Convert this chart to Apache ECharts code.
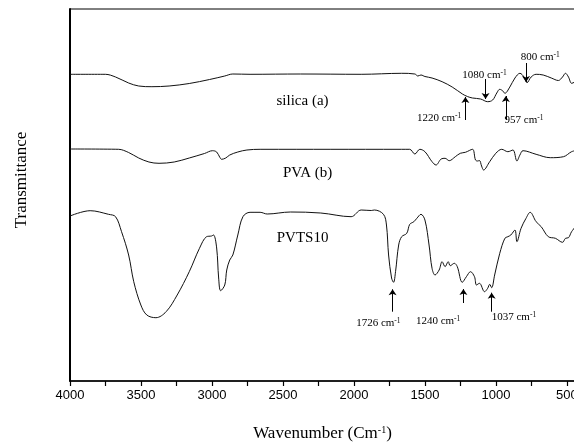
<!DOCTYPE html>
<html>
<head>
<meta charset="utf-8">
<script src="https://cdn.jsdelivr.net/npm/echarts@6/dist/echarts.min.js"></script>
<style>
	html, body { margin: 0; padding: 0; background: #fff; }
	#chart { width: 574px; height: 442px; }
</style>
</head>
<body>
<div id="chart"></div>
<script>
// spectra: [wavenumber (cm-1), transmittance (a.u., offset per trace)]
var silica = [
	[4000,306.7],[3751,306.7],[3679,304],[3587,298],[3516,295],[3423,294.3],[3302,295],[3160,297.5],
	[3017,301.5],[2910,305],[2853,307],[2732,306.7],[2376,307],[1949,306.7],[1664,307.7],[1571,307],
	[1550,305],[1528,306],[1500,304.5],[1450,303],[1379,299.3],[1308,294],[1236,287],[1201,284.5],
	[1165,283],[1108,282],[1058,279.3],[1023,281],[994,288],[973,291.7],[951,290],[937,287.7],
	[902,294],[866,303],[831,307.7],[802,304],[781,298.3],[752,304],[717,306.7],[667,306],
	[610,303],[560,300.5],[531,304],[510,307.7],[489,304],[467,297.7],[446,299],[420,303]
];
var pva = [
	[4000,232],[3658,231.7],[3587,228.5],[3516,223],[3444,219],[3373,217.7],[3266,219],[3160,223],
	[3053,227.5],[2996,230.3],[2967,229],[2946,224],[2932,221.7],[2903,223],[2875,226],[2818,229],
	[2754,231],[2661,231.7],[1664,231.7],[1607,231.7],[1571,227],[1536,231.7],[1500,229.3],[1450,219.3],
	[1422,216],[1386,222],[1358,222.7],[1329,220.3],[1286,224.3],[1251,227.7],[1215,228.7],[1165,231.7],
	[1144,221],[1130,220],[1116,220.5],[1101,215],[1087,211],[1044,219.3],[1001,227.7],[959,231.7],
	[916,229.3],[880,231],[852,220],[831,226],[809,230.3],[717,226.7],[617,223.3],[524,224.3],
	[467,229.3],[420,231]
];
var pvts10 = [
	[4000,165],[3858,170.3],[3729,166.7],[3679,164.3],[3637,149.3],[3587,126],[3551,99.3],[3501,76],
	[3459,66],[3395,63.3],[3323,69.3],[3245,86],[3160,109.3],[3088,132.7],[3038,144.3],[3003,145],
	[2989,146],[2967,133],[2953,103],[2939,90.3],[2910,96],[2896,111],[2875,121],[2853,126],
	[2818,146],[2782,164.3],[2732,168.7],[2661,168.7],[2611,167],[2447,169],[2234,168],[2020,164.3],
	[1949,171],[1878,170.5],[1856,171],[1792,166.7],[1771,156],[1756,126],[1735,103],[1721,98.7],
	[1707,109.3],[1685,136],[1664,144.3],[1628,147.7],[1607,156.7],[1578,159.3],[1557,162.7],[1528,166.7],
	[1500,161],[1471,136],[1450,112.7],[1429,106],[1400,111],[1379,119.3],[1358,114.3],[1336,119.3],
	[1322,115.3],[1293,117.7],[1272,114.3],[1237,98.7],[1208,104.3],[1179,109.3],[1151,104.3],[1137,96],
	[1116,97.7],[1080,89.3],[1058,92.7],[1044,96.7],[1030,93.3],[1009,106],[973,127.7],[937,142.7],
	[916,144.3],[895,146],[866,151],[852,139.3],[823,152.7],[788,162.7],[759,168.7],[717,159.3],
	[681,154.3],[631,144.3],[581,142.7],[531,138.7],[510,142.7],[489,143.3],[467,149.3],[420,157.7]
];

var xLabelValues = [4000,3500,3000,2500,2000,1500,1000,500];
var xTickValues = [4000,3750,3500,3250,3000,2750,2500,2250,2000,1750,1500,1250,1000,750,500];

// trace names: [text, wavenumber, transmittance]
var silicaName = ['silica (a)', 2362, 280];
var pvaName = ['PVA (b)', 2326, 208];
var pvtsName = ['PVTS10', 2362, 143];

// band labels: [text, label wn, label T, arrow wn, arrow tail T, arrow head T]
var silicaBands = [
	['1080', 1080, 306, 1073, 302, 282],
	['800', 688, 324, 788, 318, 299],
	['1220', 1400, 263, 1215, 261, 284],
	['957', 802, 261, 930, 261, 285]
];
var pvtsBands = [
	['1726', 1828, 58, 1728, 69.3, 91.7],
	['1240', 1407, 60, 1229, 78, 92],
	['1037', 873, 64, 1030, 69.3, 88.3]
];

var serif = '"Liberation Serif", "Times New Roman", serif';
var ink = '#111';

function marks(name, bands) {
	var pts = [{
		coord: [name[1], name[2]],
		label: { formatter: name[0], fontSize: 15 }
	}];
	var lines = [];
	bands.forEach(function (b) {
		pts.push({
			coord: [b[1], b[2]],
			label: { formatter: '{a|' + b[0] + ' cm}{s|-1}' }
		});
		lines.push([{ coord: [b[3], b[4]] }, { coord: [b[3], b[5]] }]);
	});
	return {
		markPoint: {
			silent: true,
			symbol: 'circle',
			symbolSize: 0,
			label: {
				show: true,
				position: 'inside',
				color: '#000',
				fontFamily: serif,
				rich: {
					a: { fontFamily: serif, fontSize: 11, color: '#000' },
					s: { fontFamily: serif, fontSize: 7.5, color: '#000', verticalAlign: 'top' }
				}
			},
			data: pts
		},
		markLine: {
			silent: true,
			symbol: ['none', 'arrow'],
			symbolSize: 6,
			label: { show: false },
			lineStyle: { type: 'solid', color: '#000', width: 1 },
			data: lines
		}
	};
}

function trace(data, name, bands) {
	var s = {
		type: 'line',
		data: data,
		smooth: 0.35,
		showSymbol: false,
		lineStyle: { color: ink, width: 1 },
		clip: true
	};
	var m = marks(name, bands);
	s.markPoint = m.markPoint;
	s.markLine = m.markLine;
	return s;
}

var chart = echarts.init(document.getElementById('chart'));
chart.setOption({
	animation: false,
	grid: {
		left: 70, right: -1, top: 9, bottom: 61,
		containLabel: false,
		outerBoundsMode: 'none',
		show: true, borderColor: '#000', borderWidth: 1
	},
	xAxis: {
		type: 'value',
		inverse: true,
		min: 443,
		max: 4000,
		name: '{a|Wavenumber (Cm}{s|-1}{a|)}',
		nameLocation: 'middle',
		nameGap: 44,
		nameTextStyle: {
			rich: {
				a: { fontFamily: serif, fontSize: 17, color: '#000' },
				s: { fontFamily: serif, fontSize: 10, color: '#000', verticalAlign: 'top' }
			}
		},
		axisLine: { lineStyle: { color: '#000', width: 1.5 } },
		axisTick: { show: true, length: 5, customValues: xTickValues, lineStyle: { color: '#000', width: 1.2 } },
		axisLabel: {
			customValues: xLabelValues,
			formatter: function (v) { return String(v); },
			color: '#000',
			fontFamily: '"Liberation Sans", Arial, sans-serif',
			fontSize: 13,
			margin: 8
		},
		splitLine: { show: false }
	},
	yAxis: {
		type: 'value',
		min: 0,
		max: 372,
		axisLine: { show: true, lineStyle: { color: '#000', width: 2 } },
		axisTick: { show: false },
		axisLabel: { show: false },
		splitLine: { show: false }
	},
	graphic: [{
		type: 'text',
		x: 22,
		y: 180,
		rotation: Math.PI / 2,
		style: {
			text: 'Transmittance',
			font: '17px ' + serif,
			fill: '#000',
			align: 'center',
			verticalAlign: 'middle'
		}
	}],
	series: [
		trace(silica, silicaName, silicaBands),
		trace(pva, pvaName, []),
		trace(pvts10, pvtsName, pvtsBands)
	]
});
</script>
</body>
</html>
